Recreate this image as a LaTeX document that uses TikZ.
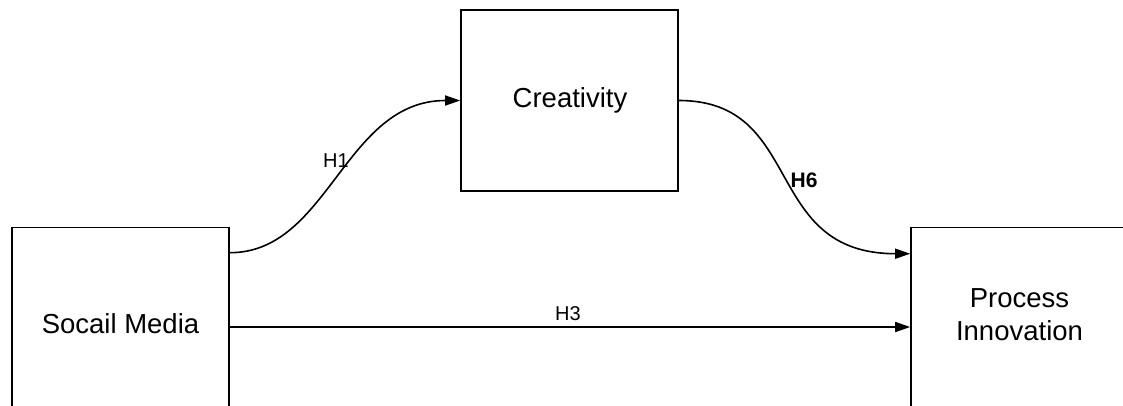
\documentclass[tikz,border=0pt]{standalone}
\usepackage{fontspec}
\setmainfont{Liberation Sans}
\usetikzlibrary{arrows.meta}
\begin{document}
\begin{tikzpicture}[x=1pt,y=-1pt,
  box/.style={draw=black,line width=1.6pt,minimum width=217pt,minimum height=181pt,inner sep=0pt},
  big/.style={font=\fontsize{27.5pt}{33pt}\selectfont,inner sep=0pt,anchor=base},
  hlab/.style={font=\fontsize{20pt}{24pt}\selectfont,inner sep=0pt},
  conn/.style={line width=1.6pt,-{Triangle[length=15pt,width=10pt]}}]
\useasboundingbox (0,0) rectangle (1123,405);
\clip (0,0) rectangle (1123,405);
\node[box] (sm) at (120.5,318) {};
\node[box] (cr) at (569.5,100.5) {};
\node[box] (pi) at (1019.5,318) {};
\node[big] (smt) at (120.5,333) {Socail Media};
\node[big] (crt) at (570,107) {Creativity};
\node[big,align=center] (pit) at (1019.5,340) {Process\\Innovation};
\draw[conn] ([yshift=-26pt]sm.north east) to[out=0,in=180,out distance=99pt,in distance=116pt] (cr.west);
\draw[conn] (cr.east) to[out=0,in=180,out distance=127pt,in distance=149pt] ([yshift=-27pt]pi.north west);
\draw[conn] ([yshift=-9pt]sm.east) -- ([yshift=-9pt]pi.west);
\node[hlab] (lh1) at (336,161) {H1};
\node[hlab,font=\fontsize{21pt}{24pt}\selectfont\bfseries] (lh6) at (804,180) {H6};
\node[hlab] (lh3) at (568,314) {H3};
\end{tikzpicture}
\end{document}
